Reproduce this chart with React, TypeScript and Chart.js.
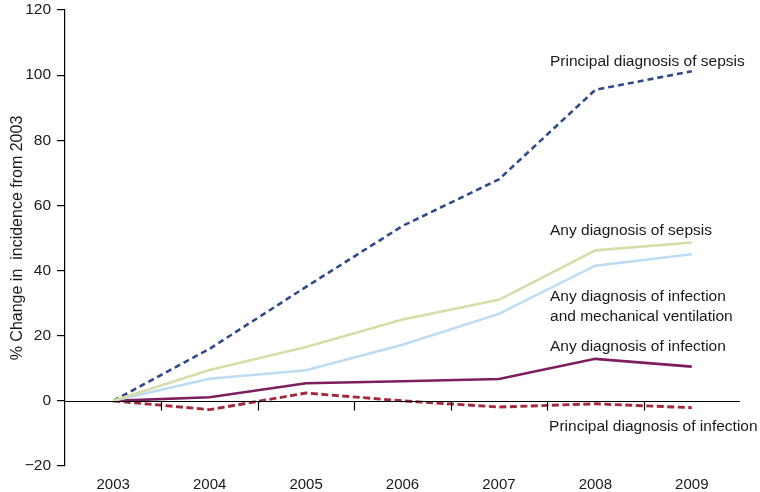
import React, { useEffect, useRef } from "react";
import { Chart, registerables } from "chart.js";

Chart.register(...registerables);

const years = [2003, 2004, 2005, 2006, 2007, 2008, 2009];
const principalSepsis = [0, 16, 35, 53.7, 68, 95.5, 101.2];
const anySepsis = [0, 9.5, 16.5, 25, 31, 46.2, 48.6];
const infectionMV = [0, 6.8, 9.4, 17.2, 26.7, 41.5, 45];
const anyInfection = [0, 1.1, 5.4, 6, 6.7, 12.9, 10.5];
const principalInfection = [0, -2.7, 2.4, 0, -1.9, -0.9, -2.1];

const yTicks = [-20, 0, 20, 40, 60, 80, 100, 120];
const halfYearTicks = [2003.5, 2004.5, 2005.5, 2006.5, 2007.5, 2008.5];

const labelTexts = [
  "Principal diagnosis of sepsis",
  "Any diagnosis of sepsis",
  "Any diagnosis of infection",
  "and mechanical ventilation",
  "Any diagnosis of infection",
  "Principal diagnosis of infection",
];
const labelX = [2007.53, 2007.53, 2007.53, 2007.53, 2007.53, 2007.52];
const labelY = [104.1, 52.2, 31.9, 25.8, 16.6, -7.8];

const FONT = "'Liberation Sans', Arial, Helvetica, sans-serif";

const toPts = (vals: number[]) => vals.map((v, i) => ({ x: years[i], y: v }));

const overlay = {
  id: "overlay",
  afterDatasetsDraw(chart: any) {
    const { ctx, scales, chartArea } = chart;
    const xs = scales.x;
    const ys = scales.y;
    ctx.save();
    const y0 = Math.round(ys.getPixelForValue(0)) + 0.5;
    ctx.strokeStyle = "#000";
    ctx.lineWidth = 1.2;
    ctx.beginPath();
    ctx.moveTo(chartArea.left, y0);
    ctx.lineTo(chartArea.right, y0);
    halfYearTicks.forEach((t) => {
      const px = Math.round(xs.getPixelForValue(t)) + 0.5;
      ctx.moveTo(px, y0);
      ctx.lineTo(px, y0 + 9);
    });
    ctx.stroke();
    ctx.fillStyle = "#1a1a1a";
    ctx.font = `15.5px ${FONT}`;
    ctx.textAlign = "left";
    ctx.textBaseline = "middle";
    labelTexts.forEach((t, i) => {
      ctx.fillText(t, xs.getPixelForValue(labelX[i]), ys.getPixelForValue(labelY[i]));
    });
    ctx.restore();
  },
};

export default function App() {
  const ref = useRef<HTMLCanvasElement | null>(null);
  useEffect(() => {
    if (!ref.current) return;
    const mk = (data: number[], color: string, dash: number[], width: number) => ({
      data: toPts(data),
      borderColor: color,
      backgroundColor: color,
      borderWidth: width,
      borderDash: dash,
      pointRadius: 0,
      tension: 0,
      fill: false,
    });
    const chart = new Chart(ref.current, {
      type: "line",
      data: {
        datasets: [
          mk(anySepsis, "#d6dea8", [], 2.6),
          mk(infectionMV, "#bcdcf3", [], 2.6),
          mk(anyInfection, "#7d1e5e", [], 2.6),
          mk(principalInfection, "#a5283e", [7, 3.5], 2.9),
          mk(principalSepsis, "#2f4a8c", [6, 4], 2.6),
        ] as any,
      },
      options: {
        animation: false,
        responsive: false,
        maintainAspectRatio: false,
        layout: { padding: { top: 0, right: 20, bottom: 0, left: 0 } },
        plugins: { legend: { display: false }, tooltip: { enabled: false } },
        scales: {
          x: {
            type: "linear",
            min: 2002.5,
            max: 2009.5,
            afterBuildTicks: (scale: any) => {
              scale.ticks = years.map((v) => ({ value: v }));
            },
            afterFit: (scale: any) => {
              scale.height = 26;
            },
            ticks: {
              callback: (v: any) => String(v),
              color: "#1a1a1a",
              font: { family: FONT, size: 15 },
              padding: 10,
              maxRotation: 0,
              autoSkip: false,
            },
            grid: { display: false, drawTicks: false },
            border: { display: false },
          },
          y: {
            min: -20,
            max: 120,
            afterBuildTicks: (scale: any) => {
              scale.ticks = yTicks.map((v) => ({ value: v }));
            },
            afterFit: (scale: any) => {
              scale.width = 65;
              scale.paddingTop = 10;
            },
            ticks: {
              callback: (v: any) => (v < 0 ? "\u2212" + Math.abs(v) : String(v)),
              color: "#1a1a1a",
              font: { family: FONT, size: 15.5 },
              padding: 6,
            },
            grid: {
              drawOnChartArea: false,
              drawTicks: true,
              tickLength: 8,
              color: "#000",
              lineWidth: 1.2,
            },
            border: { display: true, color: "#000", width: 1.2 },
            title: {
              display: true,
              text: "% Change in  incidence from 2003",
              color: "#1a1a1a",
              font: { family: FONT, size: 16 },
              padding: { top: 8, bottom: 0 },
            },
          },
        },
      } as any,
      plugins: [overlay],
    });
    return () => chart.destroy();
  }, []);
  return (
    <div style={{ position: "fixed", left: 0, top: 0, width: 760, height: 492, background: "#fff" }}>
      <canvas ref={ref} width={760} height={492} style={{ width: 760, height: 492, display: "block" }} />
    </div>
  );
}
